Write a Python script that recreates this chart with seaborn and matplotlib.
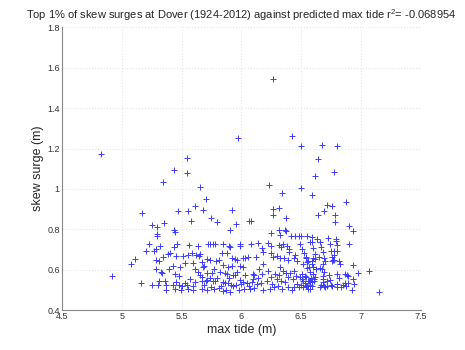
import matplotlib
matplotlib.use("Agg")
import matplotlib.pyplot as plt
import seaborn as sns
import pandas as pd
from matplotlib.ticker import FuncFormatter

# upper / sparse points
upper_tide = [4.826, 5.543, 5.436, 5.545, 5.342, 5.654, 5.704, 5.972, 5.166, 5.467, 5.553, 5.615, 5.681, 5.924,
              6.262, 6.420, 6.498, 6.676, 6.802, 6.640, 6.774, 6.618, 6.233, 6.496, 6.342, 6.593, 6.875, 6.716,
              6.760, 6.691, 6.262, 6.317, 6.267, 6.640, 6.783,
              6.373, 6.783, 6.900, 6.933, 6.061, 6.078, 5.957, 5.907, 6.247, 6.312, 6.362, 6.323, 6.412, 6.484,
              6.498, 6.551, 6.593, 6.632, 6.721, 6.791, 6.900, 5.743, 5.793,
              5.250, 5.297, 5.350, 5.292, 5.297, 5.434, 5.442, 5.579]
upper_surge = [1.173, 1.153, 1.092, 1.079, 1.036, 1.011, 0.949, 1.254, 0.883, 0.890, 0.892, 0.913, 0.898, 0.898,
               1.544, 1.262, 1.214, 1.218, 1.214, 1.150, 1.084, 1.066, 1.017, 1.006, 0.979, 0.969, 0.935, 0.920,
               0.915, 0.890, 0.900, 0.903, 0.873, 0.873, 0.873,
               0.855, 0.835, 0.815, 0.790, 0.840, 0.840, 0.825, 0.799, 0.781, 0.799, 0.799, 0.773, 0.768, 0.768,
               0.768, 0.768, 0.761, 0.751, 0.758, 0.753, 0.726, 0.854, 0.834,
               0.822, 0.812, 0.832, 0.779, 0.769, 0.799, 0.789, 0.842]

# dense cloud, tide below ~6.15 m
left_tide = [4.921, 5.077, 5.108, 5.161, 5.225, 5.202, 5.269, 5.288, 5.319, 5.286, 5.308, 5.389, 5.403, 5.439,
             5.459, 5.347, 5.283, 5.328, 5.339, 5.392, 5.425, 5.487,
             5.250, 5.303, 5.370, 5.425, 5.481, 5.543, 5.364, 5.308, 5.445, 5.476, 5.451, 5.370, 5.447, 5.495,
             5.551, 5.595, 5.506, 5.528,
             5.456, 5.509, 5.556, 5.559, 5.640, 5.590, 5.623, 5.645, 5.657, 5.718, 5.740, 5.760, 5.782, 5.849,
             5.899, 5.902, 5.986, 5.988, 6.083, 6.139,
             5.840, 5.877, 5.810, 5.788, 5.712, 5.737, 5.668, 5.687, 5.676, 5.612, 5.528, 5.595, 5.918, 5.946,
             5.960, 6.011, 6.030, 6.058, 6.119, 5.846, 5.890, 5.921, 5.988, 6.011,
             5.773, 5.821, 5.863, 5.877, 5.932, 5.944, 5.710, 5.752, 5.651, 5.673, 6.094, 6.108, 6.147, 5.737,
             5.712, 5.760, 5.779, 5.668, 5.702, 5.612, 5.598, 5.846, 5.860, 5.890, 5.916, 5.932, 5.952, 5.988,
             6.011, 6.047, 6.086, 6.100, 6.130,
             5.668, 5.712, 5.768, 5.815, 5.843, 5.871, 5.904, 5.979, 6.024, 6.069, 6.108,
             5.575, 5.640, 5.800, 5.830, 5.900, 5.960, 6.030, 6.060, 6.140, 5.750, 5.690, 6.000]
left_surge = [0.571, 0.629, 0.652, 0.534, 0.729, 0.695, 0.691, 0.703, 0.718, 0.649, 0.645, 0.678, 0.683, 0.711,
              0.726, 0.665, 0.604, 0.587, 0.582, 0.604, 0.619, 0.612,
              0.524, 0.524, 0.524, 0.524, 0.524, 0.524, 0.546, 0.546, 0.579, 0.567, 0.541, 0.501, 0.503, 0.501,
              0.503, 0.499, 0.521, 0.532,
              0.668, 0.670, 0.673, 0.724, 0.715, 0.683, 0.671, 0.668, 0.676, 0.725, 0.725, 0.725, 0.725, 0.728,
              0.716, 0.711, 0.728, 0.716, 0.725, 0.734,
              0.685, 0.681, 0.649, 0.645, 0.655, 0.647, 0.637, 0.617, 0.612, 0.604, 0.635, 0.632, 0.657, 0.654,
              0.647, 0.658, 0.656, 0.661, 0.665, 0.624, 0.612, 0.620, 0.620, 0.612,
              0.604, 0.587, 0.582, 0.577, 0.576, 0.572, 0.582, 0.582, 0.574, 0.566, 0.581, 0.575, 0.605, 0.561,
              0.550, 0.542, 0.542, 0.542, 0.542, 0.537, 0.521, 0.541, 0.534, 0.536, 0.526, 0.521, 0.524, 0.549,
              0.541, 0.536, 0.537, 0.552, 0.529,
              0.503, 0.500, 0.502, 0.508, 0.495, 0.500, 0.492, 0.501, 0.505, 0.505, 0.507,
              0.556, 0.590, 0.560, 0.520, 0.560, 0.590, 0.575, 0.520, 0.560, 0.515, 0.525, 0.530]

# dense cloud, tide above ~6.15 m
right_tide = [6.225, 6.245, 6.312, 6.331, 6.384, 6.398, 6.170, 6.184, 6.245, 6.262, 6.295, 6.323, 6.359, 6.392,
              6.442, 6.462, 6.537, 6.588, 6.613, 6.646, 6.688, 6.758, 6.774, 6.777, 6.769, 6.755, 6.797, 6.788,
              6.933, 6.977, 7.069, 7.153,
              6.866, 6.891, 6.930, 6.941, 6.802, 6.819, 6.847, 6.864, 6.797, 6.802, 6.735, 6.741, 6.746, 6.755,
              6.713, 6.671, 6.691, 6.680, 6.685, 6.688, 6.668, 6.601, 6.621, 6.615, 6.610, 6.593,
              6.548, 6.566, 6.575, 6.585, 6.566, 6.548, 6.557,
              6.493, 6.513, 6.532, 6.498, 6.479, 6.518, 6.574, 6.574, 6.540, 6.504,
              6.442, 6.457, 6.434, 6.462, 6.440, 6.420, 6.387, 6.365, 6.392, 6.373, 6.406,
              6.323, 6.345, 6.317, 6.295, 6.331, 6.308, 6.337, 6.273, 6.253, 6.281, 6.245, 6.225, 6.211, 6.239,
              6.184, 6.170, 6.178, 6.161,
              6.922, 6.885, 6.894, 6.875, 6.797, 6.819, 6.824, 6.830, 6.741, 6.746, 6.774,
              6.657, 6.663, 6.685, 6.699, 6.680, 6.657, 6.685, 6.657, 6.699, 6.713,
              6.593, 6.601, 6.615, 6.601, 6.590, 6.601, 6.610, 6.588, 6.575,
              6.574, 6.490, 6.504, 6.523, 6.540, 6.560, 6.518, 6.546, 6.532, 6.504, 6.560, 6.540,
              6.373, 6.450, 6.350, 6.400, 6.450]
right_surge = [0.734, 0.719, 0.723, 0.711, 0.718, 0.703, 0.706, 0.686, 0.683, 0.665, 0.670, 0.659, 0.660, 0.649,
               0.657, 0.645, 0.660, 0.644, 0.655, 0.665, 0.660, 0.661, 0.675, 0.691, 0.650, 0.642, 0.723, 0.744,
               0.625, 0.582, 0.592, 0.490,
               0.577, 0.567, 0.554, 0.527, 0.577, 0.561, 0.526, 0.536, 0.529, 0.512, 0.576, 0.549, 0.526, 0.518,
               0.520, 0.604, 0.591, 0.554, 0.537, 0.517, 0.526, 0.615, 0.602, 0.562, 0.542, 0.520,
               0.640, 0.612, 0.587, 0.561, 0.544, 0.521, 0.503,
               0.562, 0.542, 0.532, 0.526, 0.512, 0.512, 0.526, 0.542, 0.562, 0.579,
               0.595, 0.569, 0.554, 0.529, 0.516, 0.500, 0.516, 0.537, 0.562, 0.585, 0.582,
               0.612, 0.595, 0.576, 0.554, 0.546, 0.521, 0.505, 0.512, 0.529, 0.579, 0.562, 0.595, 0.542, 0.505,
               0.629, 0.579, 0.500, 0.532,
               0.501, 0.576, 0.532, 0.521, 0.695, 0.645, 0.629, 0.512, 0.728, 0.695, 0.649,
               0.736, 0.711, 0.686, 0.645, 0.629, 0.609, 0.571, 0.516, 0.512, 0.544,
               0.736, 0.708, 0.678, 0.658, 0.629, 0.579, 0.554, 0.537, 0.505,
               0.736, 0.728, 0.703, 0.681, 0.661, 0.642, 0.629, 0.609, 0.571, 0.554, 0.546, 0.521,
               0.790, 0.765, 0.728, 0.690, 0.675]

df = pd.DataFrame({
    "tide": upper_tide + left_tide + right_tide,
    "surge": upper_surge + left_surge + right_surge,
})

sns.set_style("white")
plt.rcParams["font.family"] = ["Liberation Sans", "DejaVu Sans"]
plt.rcParams["mathtext.fontset"] = "custom"
plt.rcParams["mathtext.rm"] = "Liberation Sans"
plt.rcParams["mathtext.it"] = "Liberation Sans"

fig = plt.figure(figsize=(4.65, 3.5), dpi=100)
ax = fig.add_axes([0.133, 0.114, 0.772, 0.808])

blue = "#3c3cff"
# line-based "+" markers: lineplot with no line, one unit per row
sns.lineplot(data=df, x="tide", y="surge", estimator=None, sort=False, units=df.index,
             linestyle="", marker="+", markersize=5, markeredgewidth=0.7,
             markeredgecolor=blue, color=blue, ax=ax)

ax.set_xlim(4.5, 7.5)
ax.set_ylim(0.4, 1.8)
ax.set_xticks([4.5, 5, 5.5, 6, 6.5, 7, 7.5])
ax.set_yticks([0.4, 0.6, 0.8, 1, 1.2, 1.4, 1.6, 1.8])
fmt = FuncFormatter(lambda v, p: "%g" % v)
ax.xaxis.set_major_formatter(fmt)
ax.yaxis.set_major_formatter(fmt)
ax.grid(True, color="#e6e6e6", linestyle=":", linewidth=0.8)
ax.set_axisbelow(True)

for side in ["top", "right"]:
    ax.spines[side].set_visible(False)
for side in ["left", "bottom"]:
    ax.spines[side].set_color("#888888")
    ax.spines[side].set_linewidth(0.8)
ax.tick_params(direction="in", length=3, width=0.6, color="#888888",
               labelsize=6.5, labelcolor="#333333", pad=1.5)

ax.set_xlabel("max tide (m)", fontsize=9, labelpad=2)
ax.set_ylabel("skew surge (m)", fontsize=9, labelpad=2)
ax.set_title("Top 1% of skew surges at Dover (1924-2012) against predicted max tide r$^{2}$= -0.068954",
             fontsize=8, pad=6)

fig.savefig("out.png", dpi=100)
